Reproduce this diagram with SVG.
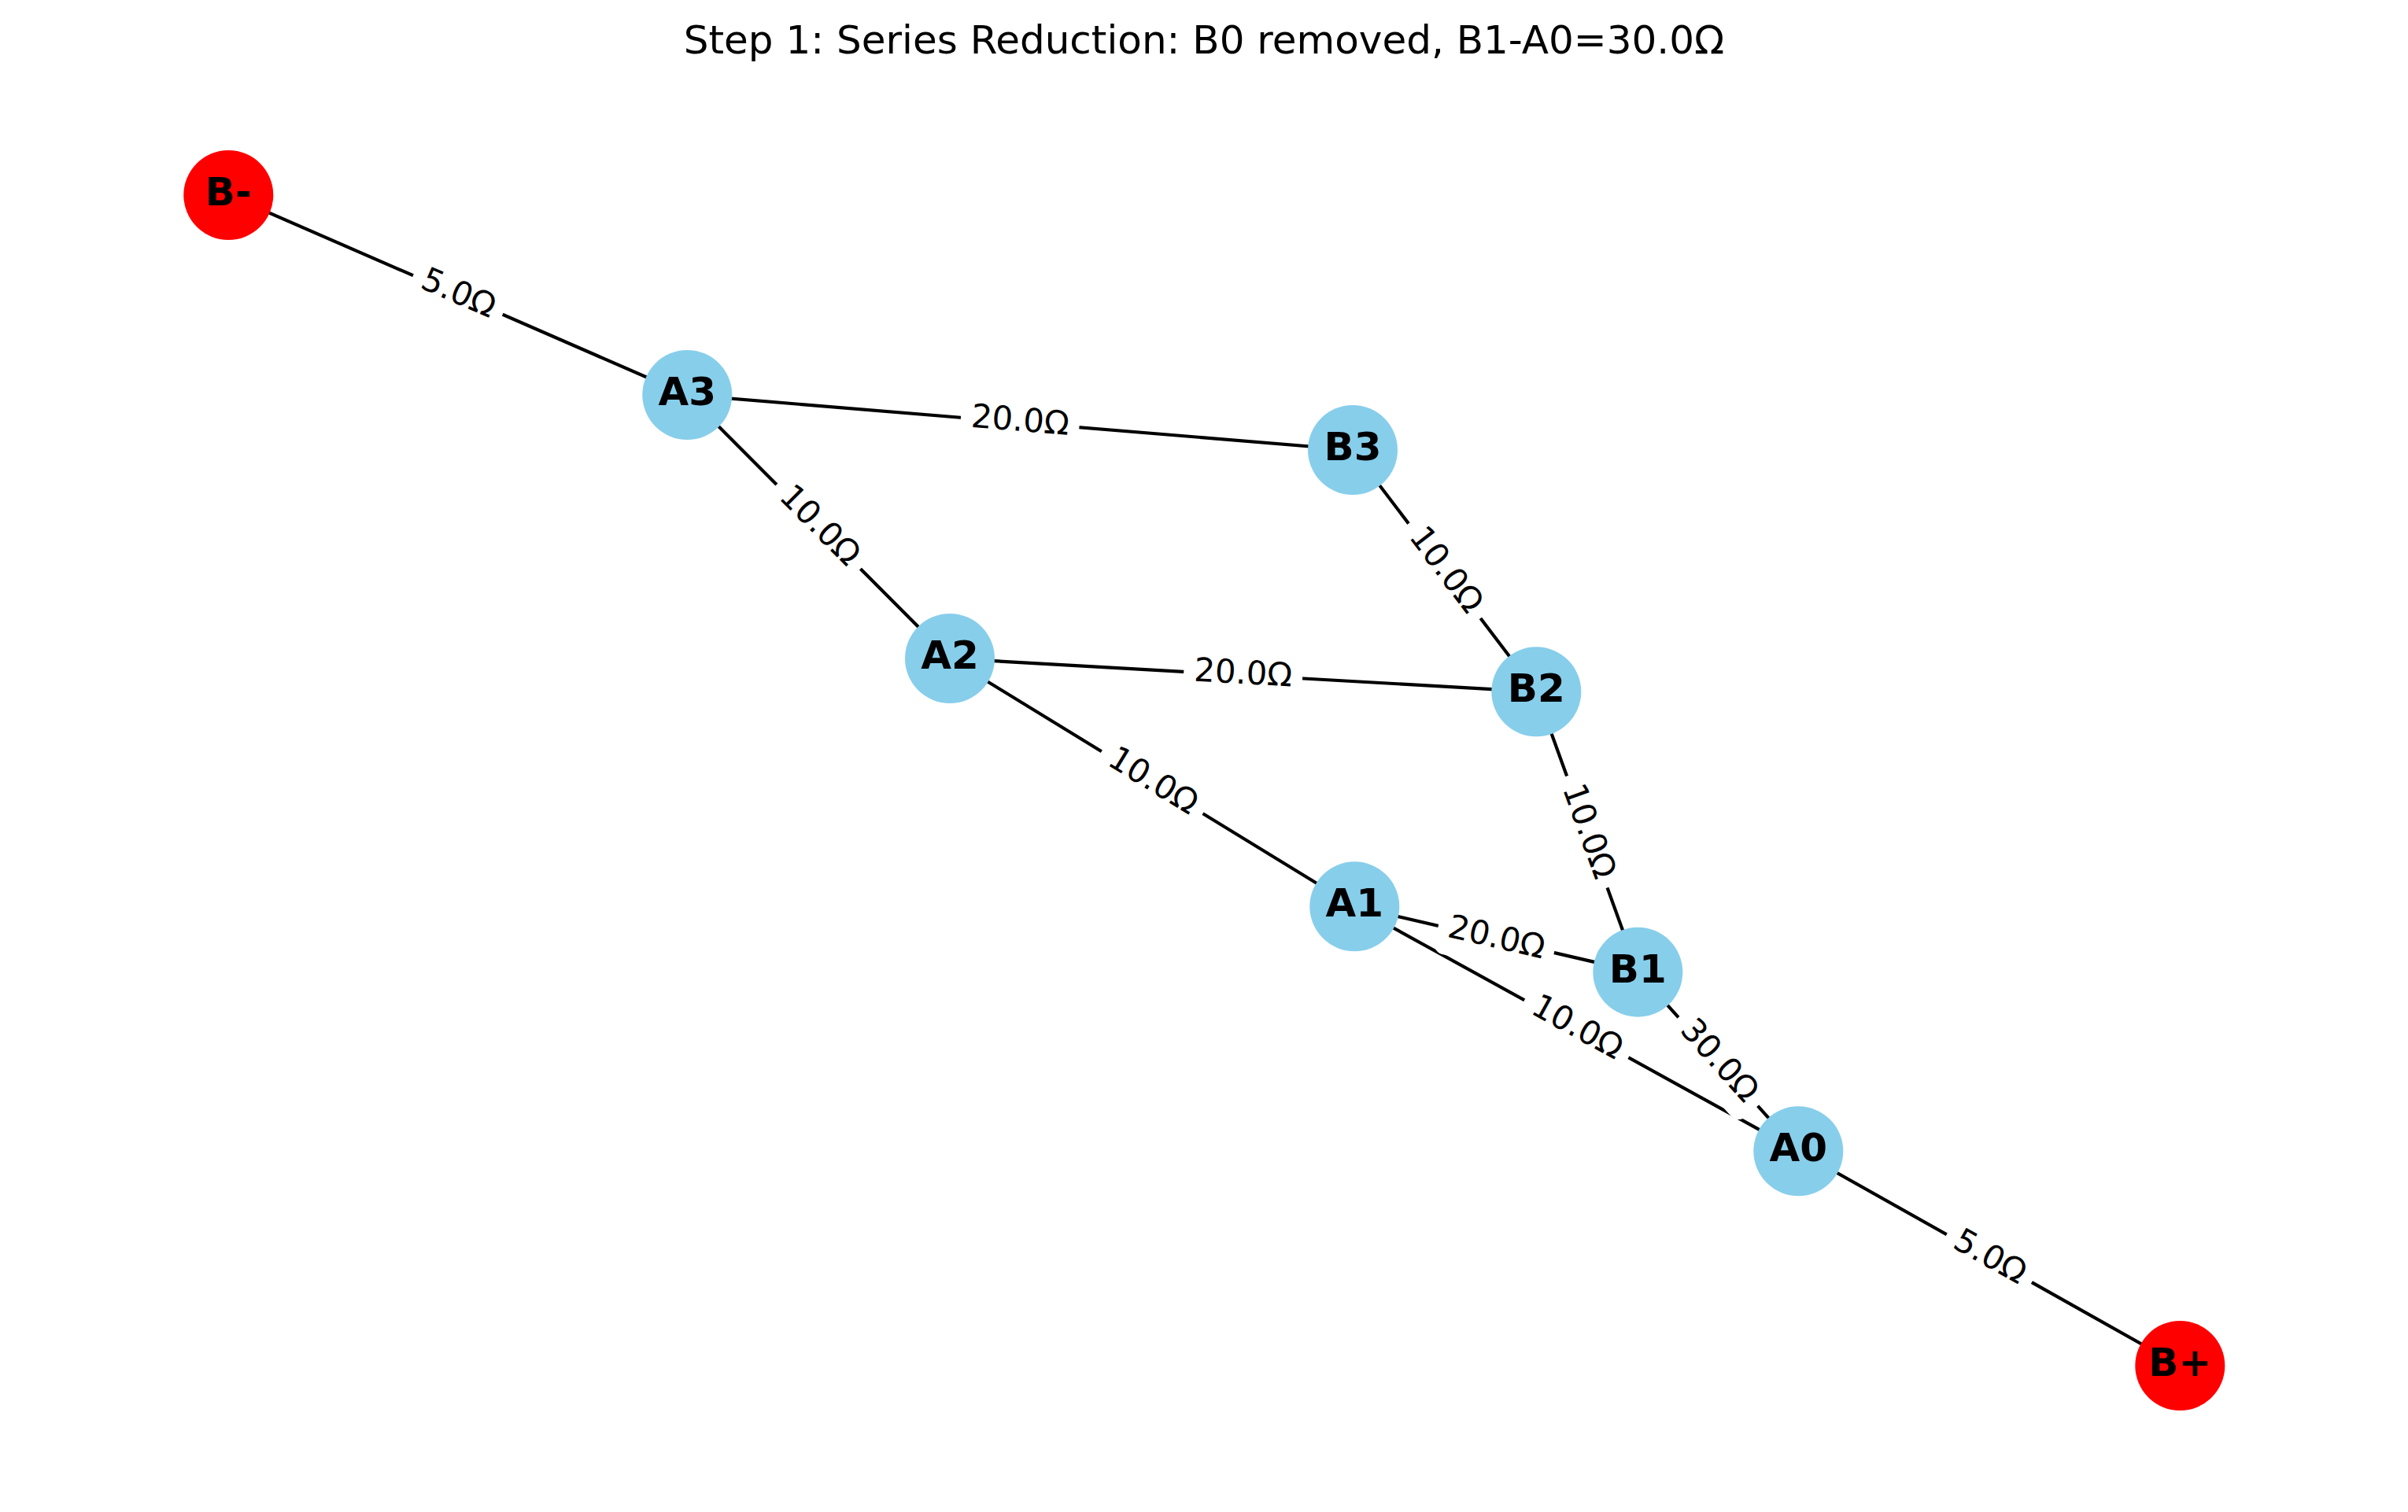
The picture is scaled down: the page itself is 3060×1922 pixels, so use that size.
<svg xmlns="http://www.w3.org/2000/svg" width="3060" height="1922" viewBox="0 0 3060 1922">
<style>
.bg{fill:#ffffff}
.title{font-family:"DejaVu Sans","Liberation Sans",sans-serif;font-size:50px;fill:#000;text-anchor:middle}
.edge{stroke:#000;stroke-width:4.17;fill:none;stroke-linecap:butt}
.nb{fill:#87CEEB}
.nr{fill:#FF0000}
.nl{font-family:"DejaVu Sans","Liberation Sans",sans-serif;font-size:50px;font-weight:bold;fill:#000;text-anchor:middle}
.lb{fill:#ffffff;stroke:#ffffff;stroke-width:1}
.lt{font-family:"DejaVu Sans","Liberation Sans",sans-serif;font-size:41.7px;fill:#000;text-anchor:middle}
</style>
<rect class="bg" x="0" y="0" width="3060" height="1922"/>
<text class="title" x="1530" y="68">Step 1: Series Reduction: B0 removed, B1-A0=30.0Ω</text>
<g id="edges">
<line class="edge" x1="290.3" y1="248" x2="873.3" y2="502"/>
<line class="edge" x1="873.3" y1="502" x2="1719" y2="572"/>
<line class="edge" x1="873.3" y1="502" x2="1207" y2="837"/>
<line class="edge" x1="1719" y1="572" x2="1952.3" y2="879.3"/>
<line class="edge" x1="1207" y1="837" x2="1952.3" y2="879.3"/>
<line class="edge" x1="1207" y1="837" x2="1721.3" y2="1152.3"/>
<line class="edge" x1="1952.3" y1="879.3" x2="2081.3" y2="1235.7"/>
<line class="edge" x1="1721.3" y1="1152.3" x2="2081.3" y2="1235.7"/>
<line class="edge" x1="1721.3" y1="1152.3" x2="2285.3" y2="1463.3"/>
<line class="edge" x1="2081.3" y1="1235.7" x2="2285.3" y2="1463.3"/>
<line class="edge" x1="2285.3" y1="1463.3" x2="2770.3" y2="1736"/>
</g>
<g id="node-Bminus"><circle class="nr" cx="290.3" cy="248" r="57"/><text class="nl" x="290.3" y="261">B-</text></g>
<g id="node-A3"><circle class="nb" cx="873.3" cy="502" r="57"/><text class="nl" x="873.3" y="515">A3</text></g>
<g id="node-B3"><circle class="nb" cx="1719" cy="572" r="57"/><text class="nl" x="1719" y="585">B3</text></g>
<g id="node-A2"><circle class="nb" cx="1207" cy="837" r="57"/><text class="nl" x="1207" y="850">A2</text></g>
<g id="node-B2"><circle class="nb" cx="1952.3" cy="879.3" r="57"/><text class="nl" x="1952.3" y="892.3">B2</text></g>
<g id="node-A1"><circle class="nb" cx="1721.3" cy="1152.3" r="57"/><text class="nl" x="1721.3" y="1165.3">A1</text></g>
<g id="node-B1"><circle class="nb" cx="2081.3" cy="1235.7" r="57"/><text class="nl" x="2081.3" y="1248.7">B1</text></g>
<g id="node-A0"><circle class="nb" cx="2285.3" cy="1463.3" r="57"/><text class="nl" x="2285.3" y="1476.3">A0</text></g>
<g id="node-Bplus"><circle class="nr" cx="2770.3" cy="1736" r="57"/><text class="nl" x="2770.3" y="1749">B+</text></g>
<g id="edge-labels">
<g transform="translate(581.8,375) rotate(23.5)"><rect class="lb" x="-61.5" y="-33.5" width="123" height="67" rx="12.5"/><text class="lt" x="0" y="10.8">5.0Ω</text></g>
<g transform="translate(1296.2,537) rotate(4.73)"><rect class="lb" x="-75" y="-33.5" width="150" height="67" rx="12.5"/><text class="lt" x="0" y="10.8">20.0Ω</text></g>
<g transform="translate(1040.2,669.5) rotate(45.1)"><rect class="lb" x="-75" y="-33.5" width="150" height="67" rx="12.5"/><text class="lt" x="0" y="10.8">10.0Ω</text></g>
<g transform="translate(1835.7,725.7) rotate(52.8)"><rect class="lb" x="-75" y="-33.5" width="150" height="67" rx="12.5"/><text class="lt" x="0" y="10.8">10.0Ω</text></g>
<g transform="translate(1579.7,858.2) rotate(3.25)"><rect class="lb" x="-75" y="-33.5" width="150" height="67" rx="12.5"/><text class="lt" x="0" y="10.8">20.0Ω</text></g>
<g transform="translate(1464.2,994.7) rotate(31.5)"><rect class="lb" x="-75" y="-33.5" width="150" height="67" rx="12.5"/><text class="lt" x="0" y="10.8">10.0Ω</text></g>
<g transform="translate(2016.8,1057.5) rotate(70.1)"><rect class="lb" x="-75" y="-33.5" width="150" height="67" rx="12.5"/><text class="lt" x="0" y="10.8">10.0Ω</text></g>
<g transform="translate(1901.3,1194) rotate(13.04)"><rect class="lb" x="-75" y="-33.5" width="150" height="67" rx="12.5"/><text class="lt" x="0" y="10.8">20.0Ω</text></g>
<g transform="translate(2003.3,1307.8) rotate(28.87)"><rect class="lb" x="-75" y="-33.5" width="150" height="67" rx="12.5"/><text class="lt" x="0" y="10.8">10.0Ω</text></g>
<g transform="translate(2183.3,1349.5) rotate(48.14)"><rect class="lb" x="-75" y="-33.5" width="150" height="67" rx="12.5"/><text class="lt" x="0" y="10.8">30.0Ω</text></g>
<g transform="translate(2527.8,1599.7) rotate(29.35)"><rect class="lb" x="-61.5" y="-33.5" width="123" height="67" rx="12.5"/><text class="lt" x="0" y="10.8">5.0Ω</text></g>
</g>
</svg>
